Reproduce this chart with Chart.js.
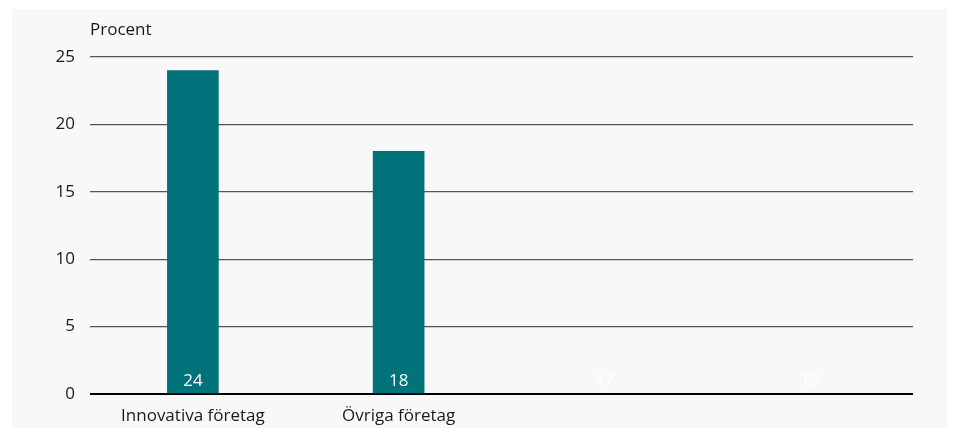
<!DOCTYPE html>
<html>
<head>
<meta charset="utf-8">
<script src="https://cdn.jsdelivr.net/npm/chart.js@4/dist/chart.umd.min.js"></script>
<style>
html,body{margin:0;padding:0;background:#fff;}
#wrap{width:957px;height:437px;position:relative;}
</style>
</head>
<body>
<div id="wrap"><canvas id="c" width="957" height="437"></canvas></div>
<script>
const categories = ["Innovativa företag", "Övriga företag", "", ""];
const values = [24, 18, 17, 13];
const barColors = ["#00737a", "#00737a", "rgba(0,0,0,0)", "rgba(0,0,0,0)"];
const yTicks = [0, 5, 10, 15, 20, 25];
const yTitle = "Procent";

const FONT = "'Open Sans', Lato, sans-serif";

const bgPlugin = {
  id: 'bg',
  beforeDraw(chart) {
    const ctx = chart.ctx;
    ctx.save();
    ctx.fillStyle = '#ffffff';
    ctx.fillRect(0, 0, chart.width, chart.height);
    ctx.fillStyle = '#f8f8f8';
    ctx.fillRect(12, 9, 935, 419);
    ctx.restore();
  }
};

const labelPlugin = {
  id: 'labels',
  afterDatasetsDraw(chart) {
    const ctx = chart.ctx;
    const meta = chart.getDatasetMeta(0);
    ctx.save();
    ctx.fillStyle = '#ffffff';
    ctx.font = "17px " + FONT;
    ctx.textAlign = 'center';
    ctx.textBaseline = 'middle';
    meta.data.forEach((bar, i) => {
      ctx.fillText(String(values[i]), bar.x, chart.chartArea.bottom - 13);
    });
    ctx.fillStyle = '#1a1a1a';
    ctx.textAlign = 'left';
    ctx.fillText(yTitle, chart.chartArea.left, 30);
    ctx.restore();
  }
};

new Chart(document.getElementById('c'), {
  type: 'bar',
  data: {
    labels: categories,
    datasets: [{
      data: values,
      backgroundColor: barColors,
      barThickness: 51
    }]
  },
  options: {
    responsive: false,
    animation: false,
    plugins: { legend: { display: false }, tooltip: { enabled: false } },
    layout: { padding: { left: 0, right: 44, top: 57, bottom: 0 } },
    scales: {
      x: {
        grid: { display: false, drawTicks: false },
        border: { display: false },
        ticks: { color: '#1a1a1a', font: { family: FONT, size: 17 }, padding: 12, maxRotation: 0, autoSkip: false },
        afterFit(scale) { scale.height = 43; }
      },
      y: {
        min: 0, max: 25,
        afterBuildTicks(scale) { scale.ticks = yTicks.map(v => ({ value: v })); },
        grid: {
          color: (c) => c.tick && c.tick.value === 0 ? '#000000' : '#555555',
          lineWidth: (c) => c.tick && c.tick.value === 0 ? 2 : 1.2,
          drawTicks: false
        },
        border: { display: false },
        ticks: { color: '#1a1a1a', font: { family: FONT, size: 17 }, padding: 15 },
        afterFit(scale) { scale.width = 90; }
      }
    }
  },
  plugins: [bgPlugin, labelPlugin]
});
</script>
</body>
</html>
